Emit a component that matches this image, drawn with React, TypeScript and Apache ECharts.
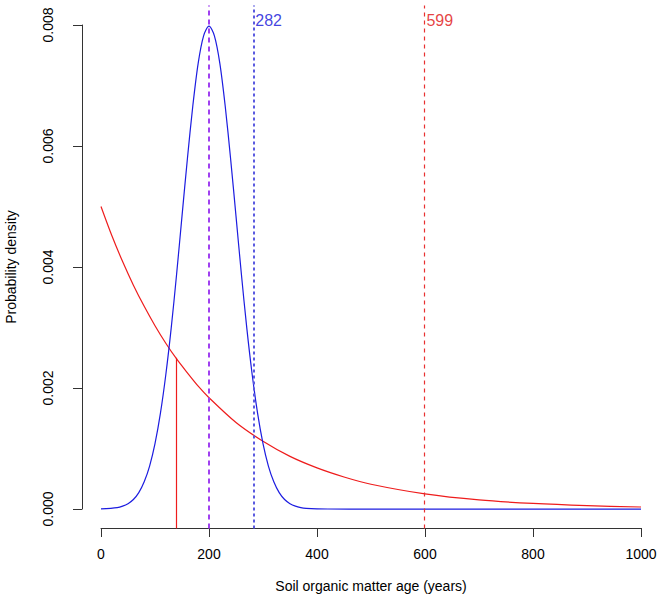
import React, { useEffect, useRef } from "react";
import * as echarts from "echarts";

// Ages (years) at which densities were read
const blueAges = [0, 30, 40, 50, 60, 70, 80, 90, 100, 110, 120, 130, 140, 150, 160, 170, 180, 190, 200, 210, 220, 230, 240, 250, 260, 270, 280, 290, 300, 310, 320, 330, 340, 350, 360, 370, 380, 400, 420, 500, 1000];
const blueDensity = [0.0000027, 0.0000245, 0.000048, 0.000089, 0.000158, 0.000272, 0.00045, 0.00071, 0.00108, 0.00158, 0.00222, 0.00299, 0.00388, 0.00484, 0.00579, 0.00666, 0.00737, 0.00782, 0.00798, 0.00782, 0.00737, 0.00666, 0.00579, 0.00484, 0.00388, 0.00299, 0.00222, 0.00158, 0.00108, 0.00071, 0.00045, 0.000272, 0.000158, 0.000089, 0.000048, 0.0000245, 0.0000123, 0.0000027, 0.0000005, 0, 0];

const redAges = [0, 20, 40, 60, 80, 100, 120, 140, 160, 180, 200, 250, 300, 350, 400, 450, 500, 600, 700, 800, 900, 1000];
const redDensity = [0.005, 0.00452, 0.00409, 0.0037, 0.00335, 0.00303, 0.00274, 0.00248, 0.00225, 0.00203, 0.00184, 0.00143, 0.00112, 0.00087, 0.00068, 0.00053, 0.00041, 0.00025, 0.00015, 0.000092, 0.000056, 0.000034];

const medianAge = 139;
const medianDensity = 0.0025;
const modeAge = 200;
const blueMeanAge = 282;
const redMeanAge = 599;

const FONT = "Liberation Sans, Arial, Helvetica, sans-serif";

export default function App() {
  const ref = useRef<HTMLDivElement>(null);
  useEffect(() => {
    if (!ref.current) return;
    const chart = echarts.init(ref.current, null, { renderer: "svg" });
    const xMin = -40, xMax = 1040, yMin = -0.00032, yMax = 0.00832;
    const vline = (x: number, y0: number, y1: number, color: string, width: number, type: any) => ({
      symbol: ["none", "none"],
      silent: true,
      label: { show: false },
      lineStyle: { color, width, type },
      data: [[{ coord: [x, y0] }, { coord: [x, y1] }]],
    });
    chart.setOption({
      animation: false,
      textStyle: { fontFamily: FONT },
      grid: [
        { left: 79.4, right: 0.4, top: 5.6, bottom: 72.6, containLabel: false, outerBoundsMode: "none" },
        { left: 101, right: 22, top: 25, bottom: 92, containLabel: false, outerBoundsMode: "none" },
      ],
      xAxis: [
        { type: "value", gridIndex: 0, min: xMin, max: xMax, show: false },
        {
          type: "value", gridIndex: 1, min: 0, max: 1000, interval: 200, offset: 19,
          axisLine: { show: true, onZero: false, lineStyle: { color: "#333", width: 1 } },
          axisTick: { show: true, length: 9, lineStyle: { color: "#333" } },
          axisLabel: { color: "#000", fontSize: 14, margin: 19, fontFamily: FONT, formatter: (v: number) => String(v) },
          splitLine: { show: false },
          name: "Soil organic matter age (years)",
          nameLocation: "middle",
          nameGap: 51,
          nameTextStyle: { color: "#000", fontSize: 14, fontFamily: FONT },
        },
      ],
      yAxis: [
        { type: "value", gridIndex: 0, min: yMin, max: yMax, show: false },
        {
          type: "value", gridIndex: 1, min: 0, max: 0.008, interval: 0.002, offset: 19,
          axisLine: { show: true, onZero: false, lineStyle: { color: "#333", width: 1 } },
          axisTick: { show: true, length: 9, lineStyle: { color: "#333" } },
          axisLabel: {
            color: "#000", fontSize: 14, margin: 27, rotate: 90, fontFamily: FONT,
            formatter: (v: number) => v.toFixed(3),
          },
          splitLine: { show: false },
          name: "Probability density",
          nameLocation: "middle",
          nameGap: 64,
          nameRotate: 90,
          nameTextStyle: { color: "#000", fontSize: 14, fontFamily: FONT },
        },
      ],
      series: [
        {
          type: "line", xAxisIndex: 0, yAxisIndex: 0, smooth: 0.3, symbol: "none", clip: false,
          data: redAges.map((a, i) => [a, redDensity[i]]),
          lineStyle: { color: "#ee1c1c", width: 1.2 },
          markLine: vline(medianAge, yMin, medianDensity, "#ee1c1c", 1.2, "solid"),
        },
        {
          type: "line", xAxisIndex: 0, yAxisIndex: 0, smooth: 0.3, symbol: "none", clip: false,
          data: blueAges.map((a, i) => [a, blueDensity[i]]),
          lineStyle: { color: "#1c1ce0", width: 1.2 },
        },
        {
          type: "line", xAxisIndex: 0, yAxisIndex: 0, symbol: "none", data: [],
          markLine: vline(modeAge, yMin, yMax, "#a040f0", 2, [5, 4]),
        },
        {
          type: "line", xAxisIndex: 0, yAxisIndex: 0, symbol: "none", data: [],
          markLine: vline(blueMeanAge, yMin, yMax, "#5a5ae0", 2, [3, 3]),
        },
        {
          type: "line", xAxisIndex: 0, yAxisIndex: 0, symbol: "none", data: [],
          markLine: vline(redMeanAge, yMin, yMax, "#e83030", 1.2, [4, 4]),
        },
        {
          type: "scatter", xAxisIndex: 0, yAxisIndex: 0, symbolSize: 0, silent: true,
          data: [
            { value: [blueMeanAge, 0.00807], label: { color: "#1010d8" } },
            { value: [redMeanAge, 0.00807], label: { color: "#e01010" } },
          ],
          label: {
            show: true, position: "right", distance: 2, fontSize: 16, fontFamily: FONT,
            formatter: (p: any) => String(p.value[0]),
          },
        },
      ],
    });
    return () => chart.dispose();
  }, []);
  return <div ref={ref} style={{ width: 663, height: 601, position: "absolute", left: 0, top: 0, background: "#fff" }} />;
}
